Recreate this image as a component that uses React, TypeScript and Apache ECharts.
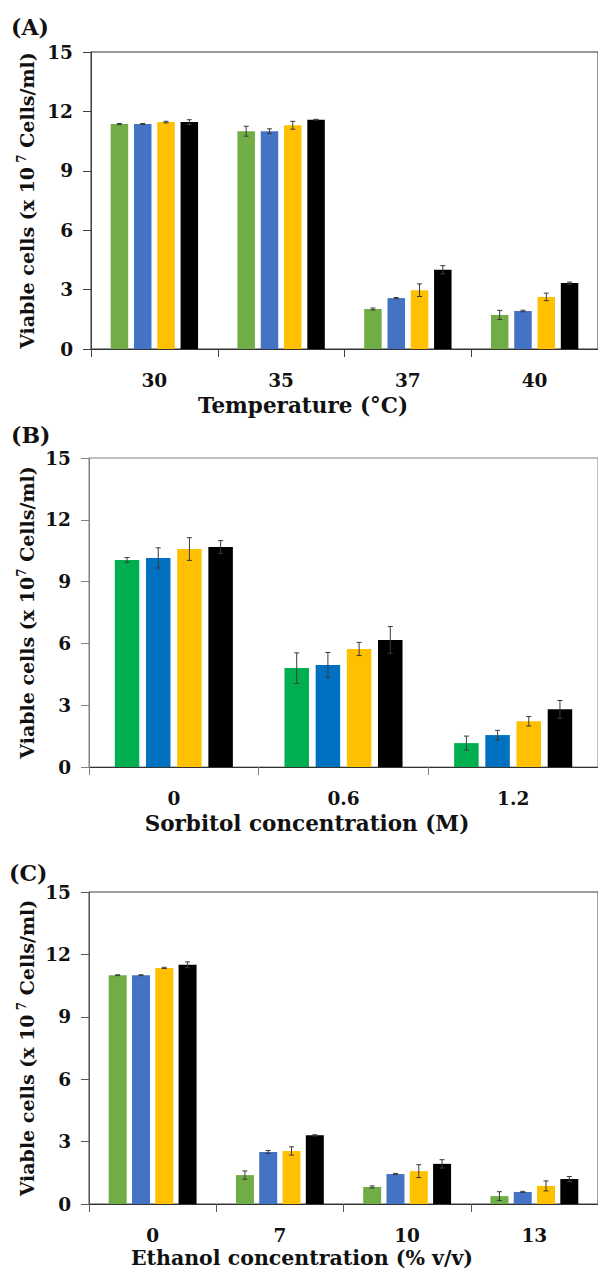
import React, { useEffect, useRef } from "react";
import * as echarts from "echarts";

const tempCategories = ["30", "35", "37", "40"];
const tempGreen = [11.36, 11.0, 2.02, 1.72];
const tempBlue = [11.36, 11.0, 2.57, 1.92];
const tempYellow = [11.46, 11.3, 2.97, 2.63];
const tempBlack = [11.46, 11.58, 4.0, 3.33];
const tempGreenErr = [0.03, 0.25, 0.05, 0.23];
const tempBlueErr = [0.03, 0.12, 0.03, 0.04];
const tempYellowErr = [0.04, 0.2, 0.32, 0.19];
const tempBlackErr = [0.12, 0.02, 0.21, 0.05];

const sorbCategories = ["0", "0.6", "1.2"];
const sorbGreen = [10.05, 4.8, 1.16];
const sorbBlue = [10.15, 4.95, 1.55];
const sorbYellow = [10.58, 5.73, 2.22];
const sorbBlack = [10.68, 6.17, 2.8];
const sorbGreenErr = [0.12, 0.74, 0.34];
const sorbBlueErr = [0.49, 0.61, 0.23];
const sorbYellowErr = [0.55, 0.32, 0.23];
const sorbBlackErr = [0.31, 0.65, 0.43];

const ethCategories = ["0", "7", "10", "13"];
const ethGreen = [11.0, 1.39, 0.82, 0.38];
const ethBlue = [11.0, 2.5, 1.44, 0.58];
const ethYellow = [11.35, 2.55, 1.58, 0.87];
const ethBlack = [11.5, 3.3, 1.93, 1.2];
const ethGreenErr = [0.02, 0.2, 0.05, 0.21];
const ethBlueErr = [0.02, 0.07, 0.03, 0.03];
const ethYellowErr = [0.03, 0.2, 0.31, 0.24];
const ethBlackErr = [0.14, 0.03, 0.2, 0.12];

const yTicks = [0, 3, 6, 9, 12, 15];

const FONT = "DejaVu Serif";

type Panel = {
  cats: string[];
  values: number[][];
  errs: number[][];
  colors: string[];
  grid: { left: number; top: number; width: number; height: number };
  barW: number;
  gap: number;
  axisColor: string;
  borderColor: string;
};

const panels: Panel[] = [
  {
    cats: tempCategories,
    values: [tempGreen, tempBlue, tempYellow, tempBlack],
    errs: [tempGreenErr, tempBlueErr, tempYellowErr, tempBlackErr],
    colors: ["#70AD47", "#4472C4", "#FFC000", "#000000"],
    grid: { left: 91, top: 52, width: 510, height: 297 },
    barW: 17.5,
    gap: 5.8,
    axisColor: "#404040",
    borderColor: "#333333",
  },
  {
    cats: sorbCategories,
    values: [sorbGreen, sorbBlue, sorbYellow, sorbBlack],
    errs: [sorbGreenErr, sorbBlueErr, sorbYellowErr, sorbBlackErr],
    colors: ["#00B050", "#0070C0", "#FFC000", "#000000"],
    grid: { left: 89, top: 458, width: 515, height: 309 },
    barW: 24.5,
    gap: 6.7,
    axisColor: "#808080",
    borderColor: "#808080",
  },
  {
    cats: ethCategories,
    values: [ethGreen, ethBlue, ethYellow, ethBlack],
    errs: [ethGreenErr, ethBlueErr, ethYellowErr, ethBlackErr],
    colors: ["#70AD47", "#4472C4", "#FFC000", "#000000"],
    grid: { left: 89, top: 892, width: 512, height: 312 },
    barW: 18,
    gap: 5.3,
    axisColor: "#595959",
    borderColor: "#404040",
  },
];

const panelLabels = [
  { text: "(A)", x: 11, y: 27 },
  { text: "(B)", x: 11, y: 435 },
  { text: "(C)", x: 9, y: 873 },
];
const xTitles = [
  { text: "Temperature (°C)", x: 303, y: 405 },
  { text: "Sorbitol concentration (M)", x: 307, y: 823 },
  { text: "Ethanol concentration (% v/v)", x: 302, y: 1258 },
];

export default function App() {
  const ref = useRef<HTMLDivElement>(null);
  useEffect(() => {
    if (!ref.current) return;
    const chart = echarts.init(ref.current, null, { renderer: "svg" });
    const grids: any[] = [];
    const xAxes: any[] = [];
    const yAxes: any[] = [];
    const series: any[] = [];
    const graphics: any[] = [];

    panels.forEach((p, pi) => {
      grids.push({
        ...p.grid,
        show: true,
        borderColor: p.borderColor,
        borderWidth: 1,
        backgroundColor: "transparent",
      });
      xAxes.push({
        type: "category",
        gridIndex: pi,
        data: p.cats,
        axisLine: { lineStyle: { color: "#333333", width: 1.2 } },
        axisTick: { show: true, length: 8, lineStyle: { color: p.axisColor } },
        axisLabel: {
          margin: 22,
          fontFamily: FONT,
          fontWeight: "bold",
          fontSize: 18.5,
          color: "#111111",
        },
        splitLine: { show: false },
      });
      yAxes.push({
        type: "value",
        gridIndex: pi,
        min: yTicks[0],
        max: yTicks[yTicks.length - 1],
        interval: 3,
        axisLine: { show: true, lineStyle: { color: p.axisColor } },
        axisTick: { show: true, length: 8, lineStyle: { color: p.axisColor } },
        axisLabel: {
          margin: 18,
          fontFamily: FONT,
          fontWeight: "bold",
          fontSize: 18.5,
          color: "#111111",
        },
        splitLine: { show: false },
      });
      const n = p.values.length;
      const gapPct = ((p.gap / p.barW) * 100).toFixed(1) + "%";
      p.values.forEach((vals, si) => {
        series.push({
          type: "bar",
          xAxisIndex: pi,
          yAxisIndex: pi,
          data: vals,
          barWidth: p.barW,
          barGap: gapPct,
          itemStyle: { color: p.colors[si] },
          z: 2,
        });
      });
      const errData: number[][] = [];
      p.values.forEach((vals, si) => {
        vals.forEach((v, ci) => {
          errData.push([ci, v, p.errs[si][ci], si]);
        });
      });
      const total = n * p.barW + (n - 1) * p.gap;
      const barW = p.barW;
      const gap = p.gap;
      series.push({
        type: "custom",
        xAxisIndex: pi,
        yAxisIndex: pi,
        z: 5,
        encode: { x: 0, y: 1 },
        data: errData,
        renderItem: (params: any, api: any) => {
          const ci = api.value(0);
          const v = api.value(1);
          const e = api.value(2);
          const si = api.value(3);
          const c = api.coord([ci, v]);
          const x = c[0] - total / 2 + barW / 2 + si * (barW + gap);
          const top = api.coord([ci, v + e])[1];
          const bot = api.coord([ci, v - e])[1];
          const st = { stroke: "#3a3a3a", lineWidth: 1 };
          return {
            type: "group",
            children: [
              { type: "line", shape: { x1: x, y1: top, x2: x, y2: bot }, style: st },
              { type: "line", shape: { x1: x - 2.5, y1: top, x2: x + 2.5, y2: top }, style: st },
              { type: "line", shape: { x1: x - 2.5, y1: bot, x2: x + 2.5, y2: bot }, style: st },
            ],
          };
        },
      });

      const cy = p.grid.top + p.grid.height / 2;
      graphics.push({
        type: "text",
        x: 27,
        y: cy,
        rotation: Math.PI / 2,
        style: {
          text: "{a|Viable cells (x 10}{s|" + (pi === 1 ? "7" : " 7") + "}{a| Cells/ml)}",
          align: "center",
          verticalAlign: "middle",
          rich: {
            a: { fontFamily: FONT, fontWeight: "bold", fontSize: 19, fill: "#111111", lineHeight: 23 },
            s: { fontFamily: FONT, fontWeight: "bold", fontSize: 12, fill: "#111111", verticalAlign: "top", lineHeight: 15 },
          },
        },
      });
      graphics.push({
        type: "text",
        x: panelLabels[pi].x,
        y: panelLabels[pi].y,
        style: {
          text: panelLabels[pi].text,
          fontFamily: FONT,
          fontWeight: "bold",
          fontSize: 22,
          fill: "#111111",
          align: "left",
          verticalAlign: "middle",
        },
      });
      graphics.push({
        type: "text",
        x: xTitles[pi].x,
        y: xTitles[pi].y,
        style: {
          text: xTitles[pi].text,
          fontFamily: FONT,
          fontWeight: "bold",
          fontSize: pi === 2 ? 20.5 : 21.5,
          fill: "#111111",
          align: "center",
          verticalAlign: "middle",
        },
      });
    });

    chart.setOption({
      animation: false,
      backgroundColor: "#ffffff",
      grid: grids,
      xAxis: xAxes,
      yAxis: yAxes,
      series,
      graphic: graphics,
    });
    return () => chart.dispose();
  }, []);
  return (
    <div style={{ position: "absolute", left: 0, top: 0, width: 598, height: 1272, overflow: "hidden", background: "#fff" }}>
      <div ref={ref} style={{ width: 598, height: 1272 }} />
    </div>
  );
}
